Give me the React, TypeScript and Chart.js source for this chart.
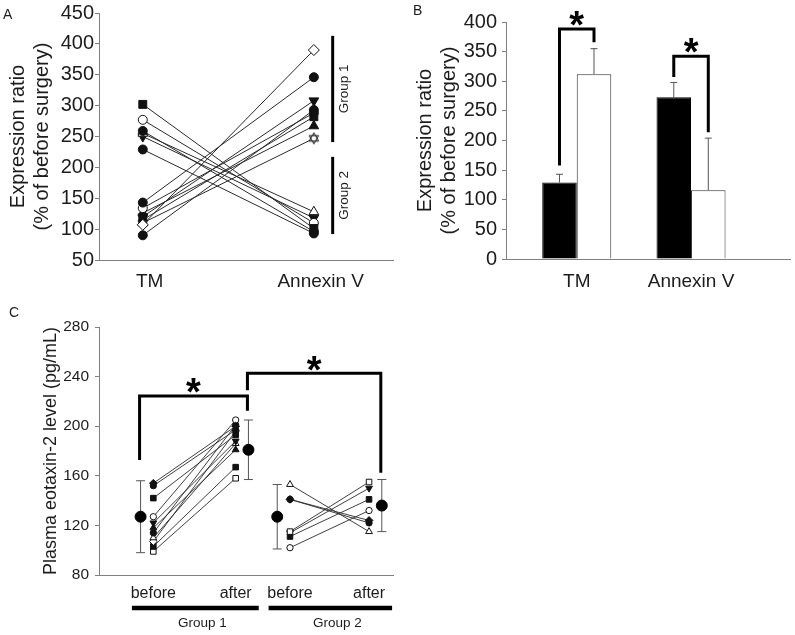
import React, { useEffect, useRef } from 'react';
import { Chart, registerables } from 'chart.js';

Chart.register(...registerables);

const FONT = "'Liberation Sans', Arial, Helvetica, sans-serif";
const TEXT = '#1c1c1c';
const AXIS = '#808080';
const LINE = '#2a2a2a';
const MARK = '#111111';
const ERR = '#555555';

// ---------------- Panel A: individual expression ratios ----------------
const aCategories = ['TM', 'Annexin V'];
const aTickValues = [50, 100, 150, 200, 250, 300, 350, 400, 450];
const aGroup1TM = [143, 107, 120, 90, 115, 134, 126, 110];
const aGroup1Annexin = [346, 390, 308, 293, 282, 288, 267, 247];
const aGroup1Markers = ['circle', 'diamond', 'triangleDown', 'circle', 'square', 'circle', 'triangle', 'hexagram'];
const aGroup1Filled = [true, false, true, true, true, false, true, false];
const aGroup2TM = [302, 277, 259, 255, 250, 229];
const aGroup2Annexin = [101, 110, 96, 128, 118, 93];
const aGroup2Markers = ['square', 'circle', 'circle', 'triangle', 'triangleDown', 'circle'];
const aGroup2Filled = [true, false, true, false, true, true];
const aGroupLabels = ['Group 1', 'Group 2'];
const aGroupLow = [241, 92];
const aGroupHigh = [413, 217];

// ---------------- Panel B: mean expression ratios ----------------
const bCategories = ['TM', 'Annexin V'];
const bTickValues = [0, 50, 100, 150, 200, 250, 300, 350, 400];
const bGroup1Means = [129, 273];
const bGroup1SD = [14, 25];
const bGroup2Means = [312, 116];
const bGroup2SD = [43, 88];
const bBracketTop = [388, 342];
const bBracketLeftEnd = [158, 307];
const bBracketRightEnd = [366, 214];

// ---------------- Panel C: plasma eotaxin-2 ----------------
const cLabels = ['before', 'after', 'before', 'after'];
const cGroupLabels = ['Group 1', 'Group 2'];
const cTickValues = [80, 120, 160, 200, 240, 280];
const cGroup1Before = [154, 152, 142, 127, 122, 118, 114, 110, 107, 103, 99];
const cGroup1After = [200, 197, 193, 205, 188, 181, 201, 186, 196, 167, 158];
const cGroup1Markers = ['diamond', 'circle', 'square', 'circle', 'triangleDown', 'triangle', 'circle', 'triangle', 'diamond', 'square', 'square'];
const cGroup1Filled = [true, true, true, false, true, true, true, false, false, true, false];
const cGroup2Before = [153, 141, 115, 114, 111, 102, 141];
const cGroup2After = [115, 124, 155, 150, 141, 132, 122];
const cGroup2Markers = ['triangle', 'diamond', 'square', 'triangleDown', 'square', 'circle', 'circle'];
const cGroup2Filled = [false, true, false, true, true, false, true];
const cMeans = [127, 181, 127, 136];
const cSD = [29, 24, 26, 21];
const cBracketFrom = [0, 1];
const cBracketTo = [1, 3];
const cBracketTop = [224.4, 242.7];
const cBracketFromEnd = [172.7, 229];
const cBracketToEnd = [212.5, 162.5];

// category positions on the linear x axis of panel C
const cPositions = [0, 1, 1.66, 2.62];
const C_MEAN_OFFSET = 0.155;

function makeHexagram(r: number): HTMLCanvasElement {
  const size = Math.ceil(r * 2 + 3);
  const c = document.createElement('canvas');
  c.width = size;
  c.height = size;
  const ctx = c.getContext('2d')!;
  const cx = size / 2;
  const cy = size / 2;
  const tri = (rot: number) => {
    ctx.beginPath();
    for (let k = 0; k < 3; k++) {
      const a = rot + (k * 2 * Math.PI) / 3;
      const px = cx + r * Math.sin(a);
      const py = cy - r * Math.cos(a);
      if (k) ctx.lineTo(px, py);
      else ctx.moveTo(px, py);
    }
    ctx.closePath();
  };
  ctx.fillStyle = '#fff';
  ctx.strokeStyle = MARK;
  ctx.lineWidth = 1;
  tri(0); ctx.fill();
  tri(Math.PI); ctx.fill();
  tri(0); ctx.stroke();
  tri(Math.PI); ctx.stroke();
  return c;
}

function marker(kind: string, hex: HTMLCanvasElement, scale: number) {
  switch (kind) {
    case 'circle': return { style: 'circle', rotation: 0, radius: 4.5 * scale };
    case 'square': return { style: 'rect', rotation: 0, radius: 5.6 * scale };
    case 'diamond': return { style: 'rectRot', rotation: 0, radius: 5.5 * scale };
    case 'triangle': return { style: 'triangle', rotation: 0, radius: 5.6 * scale };
    case 'triangleDown': return { style: 'triangle', rotation: 180, radius: 5.6 * scale };
    default: return { style: hex, rotation: 0, radius: 5.5 * scale };
  }
}

function subject(points: { x: number; y: number }[], kind: string, filled: boolean, hex: HTMLCanvasElement, scale: number, width: number) {
  const m = marker(kind, hex, scale);
  return {
    data: points,
    borderColor: LINE,
    borderWidth: width,
    pointStyle: m.style,
    pointRotation: m.rotation,
    pointRadius: m.radius,
    pointHoverRadius: m.radius,
    pointBackgroundColor: filled ? MARK : '#fff',
    pointBorderColor: MARK,
    pointBorderWidth: 1,
    fill: false,
    tension: 0,
  };
}

function drawLetter(ctx: CanvasRenderingContext2D, t: string, x: number, y: number) {
  ctx.save();
  ctx.font = `14px ${FONT}`;
  ctx.fillStyle = TEXT;
  ctx.textAlign = 'left';
  ctx.textBaseline = 'middle';
  ctx.fillText(t, x, y);
  ctx.restore();
}

function drawStar(ctx: CanvasRenderingContext2D, x: number, cy: number) {
  ctx.save();
  const size = 38;
  ctx.font = `bold ${size}px ${FONT}`;
  ctx.fillStyle = '#000';
  ctx.textAlign = 'center';
  ctx.textBaseline = 'alphabetic';
  ctx.fillText('*', x, cy + size * 0.563);
  ctx.restore();
}

function drawBracket(ctx: CanvasRenderingContext2D, lx: number, rx: number, ty: number, ly: number, ry: number) {
  ctx.save();
  ctx.strokeStyle = '#000';
  ctx.lineWidth = 3;
  ctx.lineJoin = 'miter';
  ctx.lineCap = 'butt';
  ctx.beginPath();
  ctx.moveTo(lx, ly);
  ctx.lineTo(lx, ty);
  ctx.lineTo(rx, ty);
  ctx.lineTo(rx, ry);
  ctx.stroke();
  ctx.restore();
}

function yAxis(ticks: number[], fontSize: number, pad: number, width: number, title: string | string[], titleSize: number, titlePad: number) {
  return {
    type: 'linear',
    min: ticks[0],
    max: ticks[ticks.length - 1],
    afterBuildTicks: (s: any) => { s.ticks = ticks.map((v) => ({ value: v })); },
    afterFit: (s: any) => { s.width = width; },
    grid: { display: true, drawOnChartArea: false, drawTicks: true, tickLength: 4, color: AXIS },
    border: { display: true, color: AXIS, width: 1 },
    ticks: { font: { size: fontSize, family: FONT }, color: TEXT, padding: pad, autoSkip: false },
    title: {
      display: true,
      text: title,
      color: TEXT,
      font: { size: titleSize, family: FONT, lineHeight: 1.2 },
      padding: { top: titlePad, bottom: 0 },
    },
  };
}

function xAxis(min: number, max: number, positions: number[], labels: string[], fontSize: number, pad: number, height: number) {
  return {
    type: 'linear',
    min,
    max,
    offset: false,
    afterBuildTicks: (s: any) => { s.ticks = positions.map((v) => ({ value: v })); },
    afterFit: (s: any) => { s.height = height; },
    grid: { display: false, drawTicks: false },
    border: { display: true, color: AXIS, width: 1 },
    ticks: {
      font: { size: fontSize, family: FONT },
      color: TEXT,
      padding: pad,
      autoSkip: false,
      maxRotation: 0,
      callback: (_v: any, i: number) => labels[i],
    },
  };
}

const baseOptions = {
  responsive: false,
  animation: false,
  events: [],
  plugins: { legend: { display: false }, tooltip: { enabled: false } },
};

function configA(hex: HTMLCanvasElement): any {
  const datasets: any[] = [];
  aGroup2TM.forEach((v, i) => datasets.push(subject([{ x: 0, y: v }, { x: 1, y: aGroup2Annexin[i] }], aGroup2Markers[i], aGroup2Filled[i], hex, 1, 1)));
  aGroup1TM.forEach((v, i) => datasets.push(subject([{ x: 0, y: v }, { x: 1, y: aGroup1Annexin[i] }], aGroup1Markers[i], aGroup1Filled[i], hex, 1, 1)));
  const annot = {
    id: 'annotA',
    afterDraw(chart: any) {
      const { ctx } = chart;
      const x = chart.scales.x;
      const y = chart.scales.y;
      drawLetter(ctx, 'A', 3, 15);
      const bx = x.getPixelForValue(1.11);
      aGroupLabels.forEach((label, i) => {
        const y1 = y.getPixelForValue(aGroupHigh[i]);
        const y2 = y.getPixelForValue(aGroupLow[i]);
        ctx.save();
        ctx.strokeStyle = '#000';
        ctx.lineWidth = 3;
        ctx.beginPath();
        ctx.moveTo(bx, y1);
        ctx.lineTo(bx, y2);
        ctx.stroke();
        ctx.translate(bx + 11.5, (y1 + y2) / 2);
        ctx.rotate(-Math.PI / 2);
        ctx.font = `13.5px ${FONT}`;
        ctx.fillStyle = TEXT;
        ctx.textAlign = 'center';
        ctx.textBaseline = 'middle';
        ctx.fillText(label, 0, 0);
        ctx.restore();
      });
    },
  };
  return {
    type: 'line',
    data: { datasets },
    options: {
      ...baseOptions,
      layout: { padding: { top: 12, right: 5, left: 0, bottom: 0 } },
      scales: {
        x: xAxis(-0.256, 1.465, aCategories.map((_, i) => i + 0.04), aCategories, 19, 10.5, 30),
        y: yAxis(aTickValues, 20, 1, 99, ['Expression ratio', '(% of before surgery)'], 20, 6),
      },
    },
    plugins: [annot],
  };
}

function configB(): any {
  const mk = (vals: number[], fill: string, border: string) => ({
    data: vals.map((v, i) => ({ x: i, y: v })),
    backgroundColor: fill,
    borderColor: border,
    borderWidth: 1,
    categoryPercentage: 0.604,
    barPercentage: 1,
  });
  const annot = {
    id: 'annotB',
    afterDraw(chart: any) {
      const { ctx } = chart;
      const y = chart.scales.y;
      const m0 = chart.getDatasetMeta(0);
      const m1 = chart.getDatasetMeta(1);
      drawLetter(ctx, 'B', 13, 11);
      const groups: [any, number[], number[]][] = [[m0, bGroup1Means, bGroup1SD], [m1, bGroup2Means, bGroup2SD]];
      groups.forEach(([meta, means, sds]) => {
        meta.data.forEach((bar: any, i: number) => {
          const top = y.getPixelForValue(means[i] + sds[i]);
          const base = y.getPixelForValue(means[i]);
          ctx.save();
          ctx.strokeStyle = ERR;
          ctx.lineWidth = 1;
          ctx.beginPath();
          ctx.moveTo(bar.x, base);
          ctx.lineTo(bar.x, top);
          ctx.moveTo(bar.x - 3.5, top);
          ctx.lineTo(bar.x + 3.5, top);
          ctx.stroke();
          ctx.restore();
        });
      });
      bCategories.forEach((_, i) => {
        const lx = m0.data[i].x;
        const rx = m1.data[i].x;
        const ty = y.getPixelForValue(bBracketTop[i]);
        drawBracket(ctx, lx, rx, ty, y.getPixelForValue(bBracketLeftEnd[i]), y.getPixelForValue(bBracketRightEnd[i]));
        drawStar(ctx, (lx + rx) / 2, ty - 13);
      });
    },
  };
  return {
    type: 'bar',
    data: {
      datasets: [mk(bGroup1Means, '#000', '#000'), mk(bGroup2Means, '#fff', '#333')],
    },
    options: {
      ...baseOptions,
      layout: { padding: { top: 22, right: 5, left: 0, bottom: 0 } },
      scales: {
        x: xAxis(-0.619, 1.866, bCategories.map((_, i) => i), bCategories, 19, 11, 31),
        y: yAxis(bTickValues, 20, 5, 106, ['Expression ratio', '(% of before surgery)'], 20, 13),
      },
    },
    plugins: [annot],
  };
}

function configC(hex: HTMLCanvasElement): any {
  const datasets: any[] = [];
  cGroup1Before.forEach((v, i) => datasets.push(subject([{ x: cPositions[0], y: v }, { x: cPositions[1], y: cGroup1After[i] }], cGroup1Markers[i], cGroup1Filled[i], hex, 0.7, 0.9)));
  cGroup2Before.forEach((v, i) => datasets.push(subject([{ x: cPositions[2], y: v }, { x: cPositions[3], y: cGroup2After[i] }], cGroup2Markers[i], cGroup2Filled[i], hex, 0.7, 0.9)));
  const meanX = cMeans.map((_, i) => cPositions[i] + (i % 2 ? 1 : -1) * C_MEAN_OFFSET);
  datasets.push({
    data: cMeans.map((v, i) => ({ x: meanX[i], y: v })),
    showLine: false,
    pointStyle: 'circle',
    pointRadius: 5.5,
    pointHoverRadius: 5.5,
    pointBackgroundColor: '#000',
    pointBorderColor: '#000',
    borderColor: '#000',
  });
  const annot = {
    id: 'annotC',
    beforeDatasetsDraw(chart: any) {
      const { ctx } = chart;
      const x = chart.scales.x;
      const y = chart.scales.y;
      cMeans.forEach((m, i) => {
        const px = x.getPixelForValue(meanX[i]);
        const hi = y.getPixelForValue(m + cSD[i]);
        const lo = y.getPixelForValue(m - cSD[i]);
        ctx.save();
        ctx.strokeStyle = ERR;
        ctx.lineWidth = 1;
        ctx.beginPath();
        ctx.moveTo(px, hi);
        ctx.lineTo(px, lo);
        ctx.moveTo(px - 4.5, hi);
        ctx.lineTo(px + 4.5, hi);
        ctx.moveTo(px - 4.5, lo);
        ctx.lineTo(px + 4.5, lo);
        ctx.stroke();
        ctx.restore();
      });
    },
    afterDraw(chart: any) {
      const { ctx, chartArea } = chart;
      const x = chart.scales.x;
      const y = chart.scales.y;
      drawLetter(ctx, 'C', 9, 23);
      cBracketFrom.forEach((from, i) => {
        const lx = x.getPixelForValue(meanX[from]) - 1;
        const rx = x.getPixelForValue(meanX[cBracketTo[i]]) - 1;
        const ty = y.getPixelForValue(cBracketTop[i]);
        drawBracket(ctx, lx, rx, ty, y.getPixelForValue(cBracketFromEnd[i]), y.getPixelForValue(cBracketToEnd[i]));
        drawStar(ctx, (lx + rx) / 2, ty - 12);
      });
      const by = chartArea.bottom + 33;
      [[0, 1], [2, 3]].forEach(([a, b], gi) => {
        const x1 = x.getPixelForValue(cPositions[a] - 0.26);
        const x2 = x.getPixelForValue(cPositions[b] + 0.28);
        ctx.save();
        ctx.strokeStyle = '#000';
        ctx.lineWidth = 4.5;
        ctx.beginPath();
        ctx.moveTo(x1, by);
        ctx.lineTo(x2, by);
        ctx.stroke();
        ctx.font = `13.5px ${FONT}`;
        ctx.fillStyle = TEXT;
        ctx.textAlign = 'center';
        ctx.textBaseline = 'middle';
        ctx.fillText(cGroupLabels[gi], (x1 + x2) / 2 + 7, chartArea.bottom + 48);
        ctx.restore();
      });
    },
  };
  return {
    type: 'line',
    data: { datasets },
    options: {
      ...baseOptions,
      layout: { padding: { top: 37, right: 3, left: 0, bottom: 0 } },
      scales: {
        x: xAxis(-0.66, 2.917, cPositions, cLabels, 16, 8.5, 60),
        y: yAxis(cTickValues, 15.5, 6, 99, 'Plasma eotaxin-2 level (pg/mL)', 18, 40),
      },
    },
    plugins: [annot],
  };
}

export default function App() {
  const refA = useRef<HTMLCanvasElement>(null);
  const refB = useRef<HTMLCanvasElement>(null);
  const refC = useRef<HTMLCanvasElement>(null);

  useEffect(() => {
    document.body.style.margin = '0';
    Chart.defaults.font.family = FONT;
    Chart.defaults.color = TEXT;
    const hexA = makeHexagram(5.5);
    const hexC = makeHexagram(3.9);
    const charts = [
      new Chart(refA.current!, configA(hexA)),
      new Chart(refB.current!, configB()),
      new Chart(refC.current!, configC(hexC)),
    ];
    return () => charts.forEach((c) => c.destroy());
  }, []);

  return (
    <div style={{ position: 'absolute', left: 0, top: 0, width: 795, height: 635, background: '#fff', overflow: 'hidden' }}>
      <canvas ref={refA} width={400} height={290} style={{ position: 'absolute', left: 0, top: 0, width: 400, height: 290 }} />
      <canvas ref={refB} width={395} height={290} style={{ position: 'absolute', left: 400, top: 0, width: 395, height: 290 }} />
      <canvas ref={refC} width={400} height={345} style={{ position: 'absolute', left: 0, top: 290, width: 400, height: 345 }} />
    </div>
  );
}
